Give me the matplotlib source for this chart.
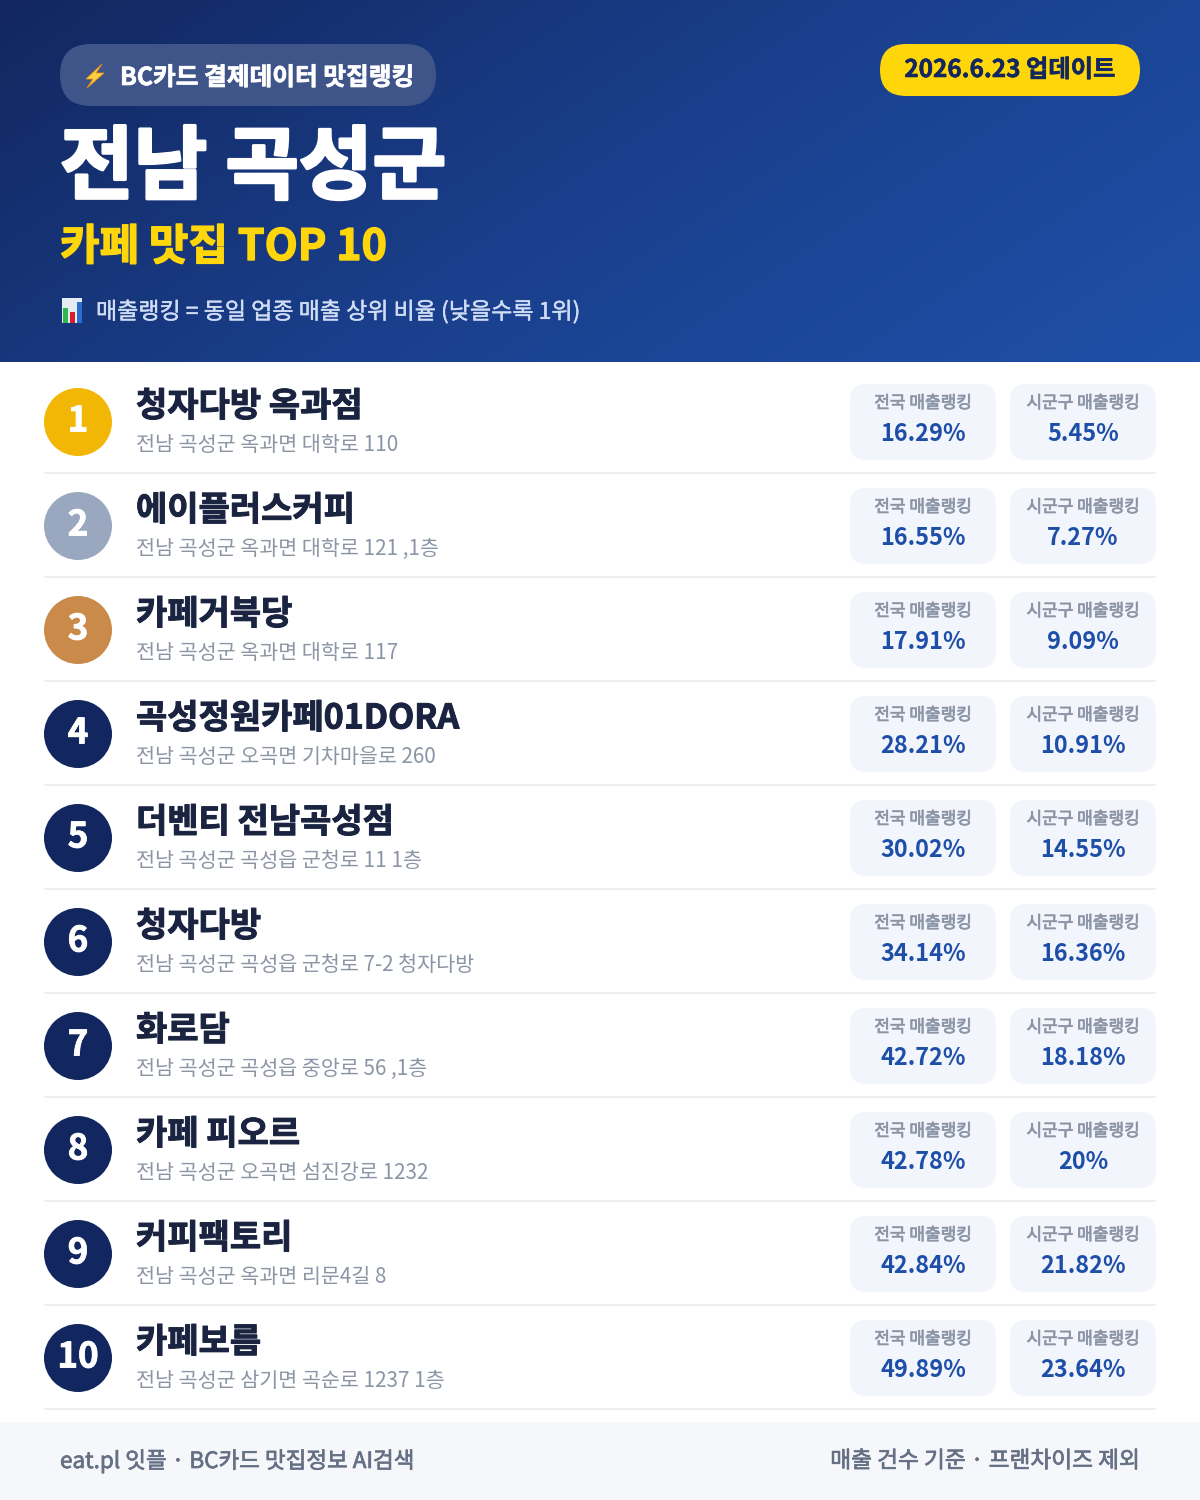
import matplotlib
matplotlib.use("Agg")
import matplotlib.patheffects as pe
import matplotlib.pyplot as plt
import numpy as np
from matplotlib.colors import LinearSegmentedColormap
from matplotlib.patches import Circle, FancyBboxPatch, Polygon, Rectangle

plt.rcParams["font.family"] = ["Noto Sans CJK KR", "DejaVu Sans"]

NAMES = ["청자다방 옥과점", "에이플러스커피", "카페거북당", "곡성정원카페01DORA", "더벤티 전남곡성점",
         "청자다방", "화로담", "카페 피오르", "커피팩토리", "카페보름"]
ADDRS = ["전남 곡성군 옥과면 대학로 110", "전남 곡성군 옥과면 대학로 121 ,1층",
         "전남 곡성군 옥과면 대학로 117", "전남 곡성군 오곡면 기차마을로 260",
         "전남 곡성군 곡성읍 군청로 11 1층", "전남 곡성군 곡성읍 군청로 7-2 청자다방",
         "전남 곡성군 곡성읍 중앙로 56 ,1층", "전남 곡성군 오곡면 섬진강로 1232",
         "전남 곡성군 옥과면 리문4길 8", "전남 곡성군 삼기면 곡순로 1237 1층"]
NATIONAL = ["16.29%", "16.55%", "17.91%", "28.21%", "30.02%",
            "34.14%", "42.72%", "42.78%", "42.84%", "49.89%"]
LOCAL = ["5.45%", "7.27%", "9.09%", "10.91%", "14.55%",
         "16.36%", "18.18%", "20%", "21.82%", "23.64%"]
BADGE_COLORS = ["#f2b705", "#9aa8bf", "#c98a4a"] + ["#12275f"] * 7

NAVY, INK, GREY, BLUE, PALE = "#12275f", "#1a2440", "#8b95a5", "#1e4fa8", "#f2f5fc"


def px(size):
    # font size given in image pixels
    return size * 0.72


def fatten(txt, width):
    # the installed font stops at bold, so thicken heavier text with a stroke
    txt.set_path_effects([pe.withStroke(linewidth=width, foreground=txt.get_color())])


def box(ax, x, y, w, h, r, **kw):
    ax.add_patch(FancyBboxPatch((x + r, y + r), w - 2 * r, h - 2 * r,
                                boxstyle=f"round,pad={r},rounding_size={r}",
                                linewidth=0, **kw))


def header(ax):
    grad = np.fromfunction(lambda j, i: (i / 1200 + j / 362 * 0.45) / 1.45, (181, 600))
    cmap = LinearSegmentedColormap.from_list("hdr", ["#12275f", "#1a3f8c", "#1e50a8"])
    ax.imshow(grad, cmap=cmap, extent=(0, 1200, 362, 0), aspect="auto", zorder=0)

    box(ax, 60, 44, 376, 62, 31, facecolor="#3f5489", zorder=1)
    ax.add_patch(Polygon([(102, 64), (86, 79), (93, 79), (87, 88), (104, 73), (96, 73)],
                         facecolor="#ffd23f", edgecolor="#e8921a", linewidth=0.6, zorder=2))
    t = ax.text(120, 78, "BC카드 결제데이터 맛집랭킹", fontsize=px(24.7), fontweight="bold",
                color="white", va="center", zorder=2)
    fatten(t, 0.5)

    box(ax, 880, 44, 260, 52, 26, facecolor="#ffd60a", zorder=1)
    t = ax.text(1010, 70, "2026.6.23 업데이트", fontsize=px(24.3), fontweight="bold",
                color=NAVY, ha="center", va="center", zorder=2)
    fatten(t, 0.4)

    t = ax.text(60, 169, "전남 곡성군", fontsize=px(80), fontweight="bold",
                color="white", va="center", zorder=2)
    fatten(t, 2.2)
    t = ax.text(60, 247, "카페 맛집 TOP 10", fontsize=px(43), fontweight="bold",
                color="#ffd60a", va="center", zorder=2)
    fatten(t, 1.0)

    ax.add_patch(Rectangle((62, 298), 20, 25, facecolor="#e6ebf2", zorder=2))
    for x, top, col in [(63, 308, "#2fb84f"), (70, 312, "#d3202a"), (77, 302, "#2a6fd0")]:
        ax.add_patch(Rectangle((x, top), 4.5, 323 - top, facecolor=col, zorder=3))
    t = ax.text(96, 312, "매출랭킹 = 동일 업종 매출 상위 비율 (낮을수록 1위)", fontsize=px(23),
                color="#cfdcf5", va="center", zorder=2)
    fatten(t, 0.3)


def row(ax, i):
    y = 362 + 104 * i
    ax.add_patch(Circle((78, y + 60), 34, facecolor=BADGE_COLORS[i], edgecolor="none"))
    t = ax.text(78, y + 59, str(i + 1), fontsize=px(35), fontweight="bold", color="white",
                ha="center", va="center")
    fatten(t, 0.6)
    t = ax.text(136, y + 44, NAMES[i], fontsize=px(34), fontweight="bold", color=INK, va="center")
    fatten(t, 0.7)
    ax.text(136, y + 83, ADDRS[i], fontsize=px(20.7), color=GREY, va="center")
    for x, label, val in [(850, "전국 매출랭킹", NATIONAL[i]), (1010, "시군구 매출랭킹", LOCAL[i])]:
        box(ax, x, y + 22, 146, 76, 16, facecolor=PALE)
        t = ax.text(x + 73, y + 41, label, fontsize=px(17), color=GREY, ha="center", va="center")
        fatten(t, 0.5)
        ax.text(x + 73, y + 72, val, fontsize=px(23.5), fontweight="bold", color=BLUE,
                ha="center", va="center")
    ax.add_patch(Rectangle((44, y + 110), 1112, 2, facecolor="#eceef1", linewidth=0))


def main():
    fig = plt.figure(figsize=(12, 15), dpi=100, facecolor="white")
    ax = fig.add_axes([0, 0, 1, 1])
    header(ax)
    for i in range(len(NAMES)):
        row(ax, i)

    ax.add_patch(Rectangle((0, 1422), 1200, 78, facecolor="#f5f7fb", linewidth=0))
    t = ax.text(60, 1461, "eat.pl 잇플 · BC카드 맛집정보 AI검색", fontsize=px(22.5),
                color="#667085", va="center")
    fatten(t, 0.5)
    t = ax.text(1140, 1461, "매출 건수 기준 · 프랜차이즈 제외", fontsize=px(22.7),
                color="#667085", ha="right", va="center")
    fatten(t, 0.5)

    ax.set_xlim(0, 1200)
    ax.set_ylim(1500, 0)
    ax.axis("off")
    fig.savefig("out.png", dpi=100, facecolor="white")
    plt.close(fig)


if __name__ == "__main__":
    main()
